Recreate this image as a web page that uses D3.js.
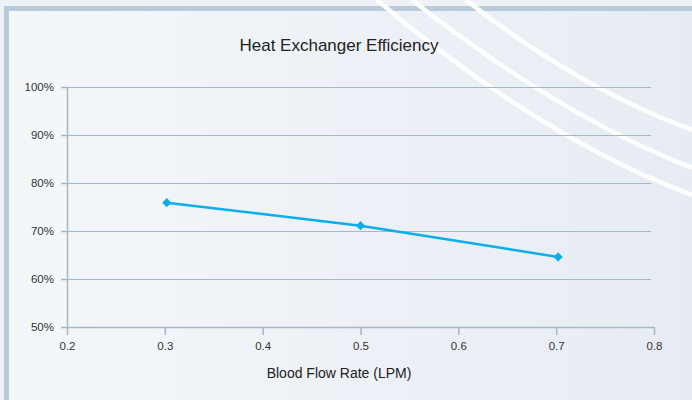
<!DOCTYPE html>
<html lang="en">
<head>
<meta charset="UTF-8">
<title>Heat Exchanger Efficiency</title>
<script src="https://cdn.jsdelivr.net/npm/d3@7"></script>
<style>
  html, body { margin: 0; padding: 0; background: #eef2f6; }
  svg { display: block; font-family: "Liberation Sans", Arial, sans-serif; }
</style>
</head>
<body>
<svg width="692" height="400"></svg>
<script>
  // data
  const flowRates = [0.302, 0.5, 0.702];
  const efficiency = [75.9, 71.1, 64.6];
  const xTicks = [0.2, 0.3, 0.4, 0.5, 0.6, 0.7, 0.8];
  const yTicks = [50, 60, 70, 80, 90, 100];

  const width = 692, height = 400;
  const svg = d3.select("svg");

  // background + frame
  const defs = svg.append("defs");
  const grad = defs.append("linearGradient").attr("id", "bg").attr("x1", 0).attr("x2", 1).attr("y1", 0).attr("y2", 0);
  grad.append("stop").attr("offset", "0%").attr("stop-color", "#f4f7fa");
  grad.append("stop").attr("offset", "100%").attr("stop-color", "#e7ecf4");

  svg.append("rect").attr("width", width).attr("height", height).attr("fill", "#eef2f6");
  svg.append("rect").attr("x", 4).attr("y", 6).attr("width", width - 4).attr("height", height - 6).attr("fill", "#b9cad8");
  svg.append("rect").attr("x", 9).attr("y", 11).attr("width", width - 9).attr("height", height - 11).attr("fill", "url(#bg)");

  // white decorative arcs top right
  const arcs = [
    [[377, 0], [540, 138], [692, 195]],
    [[412, 0], [560, 116], [692, 168]],
    [[466, 0], [578, 88], [692, 130]]
  ];
  arcs.forEach(a => {
    const p = d3.path();
    p.moveTo(a[0][0], a[0][1]);
    p.quadraticCurveTo(a[1][0], a[1][1], a[2][0], a[2][1]);
    svg.append("path").attr("d", p.toString())
      .attr("fill", "none").attr("stroke", "#ffffff").attr("stroke-width", 4.5).attr("opacity", 0.95);
  });

  const x = d3.scaleLinear().domain([0.2, 0.8]).range([67, 654]);
  const y = d3.scaleLinear().domain([50, 100]).range([327, 87]);
  const axisColor = "#a6b7c5";

  // gridlines
  svg.append("g").selectAll("line")
    .data(yTicks.slice(1))
    .join("line")
    .attr("x1", x(0.2)).attr("x2", x(0.8) - 3)
    .attr("y1", d => y(d) + 0.5).attr("y2", d => y(d) + 0.5)
    .attr("stroke", axisColor).attr("stroke-width", 1);

  const yAxis = svg.append("g")
    .attr("transform", `translate(${x(0.2)},0)`)
    .call(d3.axisLeft(y).tickValues(yTicks).tickSize(6).tickSizeOuter(0).tickPadding(7).tickFormat(d => d + "%"));

  const xAxis = svg.append("g")
    .attr("transform", `translate(0,${y(50)})`)
    .call(d3.axisBottom(x).tickValues(xTicks).tickSize(8).tickSizeOuter(0).tickPadding(7).tickFormat(d3.format(".1f")));

  [xAxis, yAxis].forEach(g => {
    g.selectAll("path, line").attr("stroke", axisColor).attr("stroke-width", 1.5);
    g.selectAll("text").attr("fill", "#333").attr("font-size", 11.5).attr("font-family", "Liberation Sans, Arial, sans-serif");
  });

  // series
  const pts = flowRates.map((f, i) => [f, efficiency[i]]);
  svg.append("path")
    .datum(pts)
    .attr("d", d3.line().x(d => x(d[0])).y(d => y(d[1])))
    .attr("fill", "none").attr("stroke", "#0aaeea").attr("stroke-width", 2.5);

  svg.append("g").selectAll("path")
    .data(pts)
    .join("path")
    .attr("d", d3.symbol().type(d3.symbolDiamond2).size(55))
    .attr("transform", d => `translate(${x(d[0])},${y(d[1])})`)
    .attr("fill", "#0aaeea");

  // titles
  svg.append("text").attr("x", 339).attr("y", 51).attr("text-anchor", "middle")
    .attr("font-size", 17).attr("fill", "#222").text("Heat Exchanger Efficiency");
  svg.append("text").attr("x", 339).attr("y", 378).attr("text-anchor", "middle")
    .attr("font-size", 14).attr("fill", "#222").text("Blood Flow Rate (LPM)");
</script>
</body>
</html>
